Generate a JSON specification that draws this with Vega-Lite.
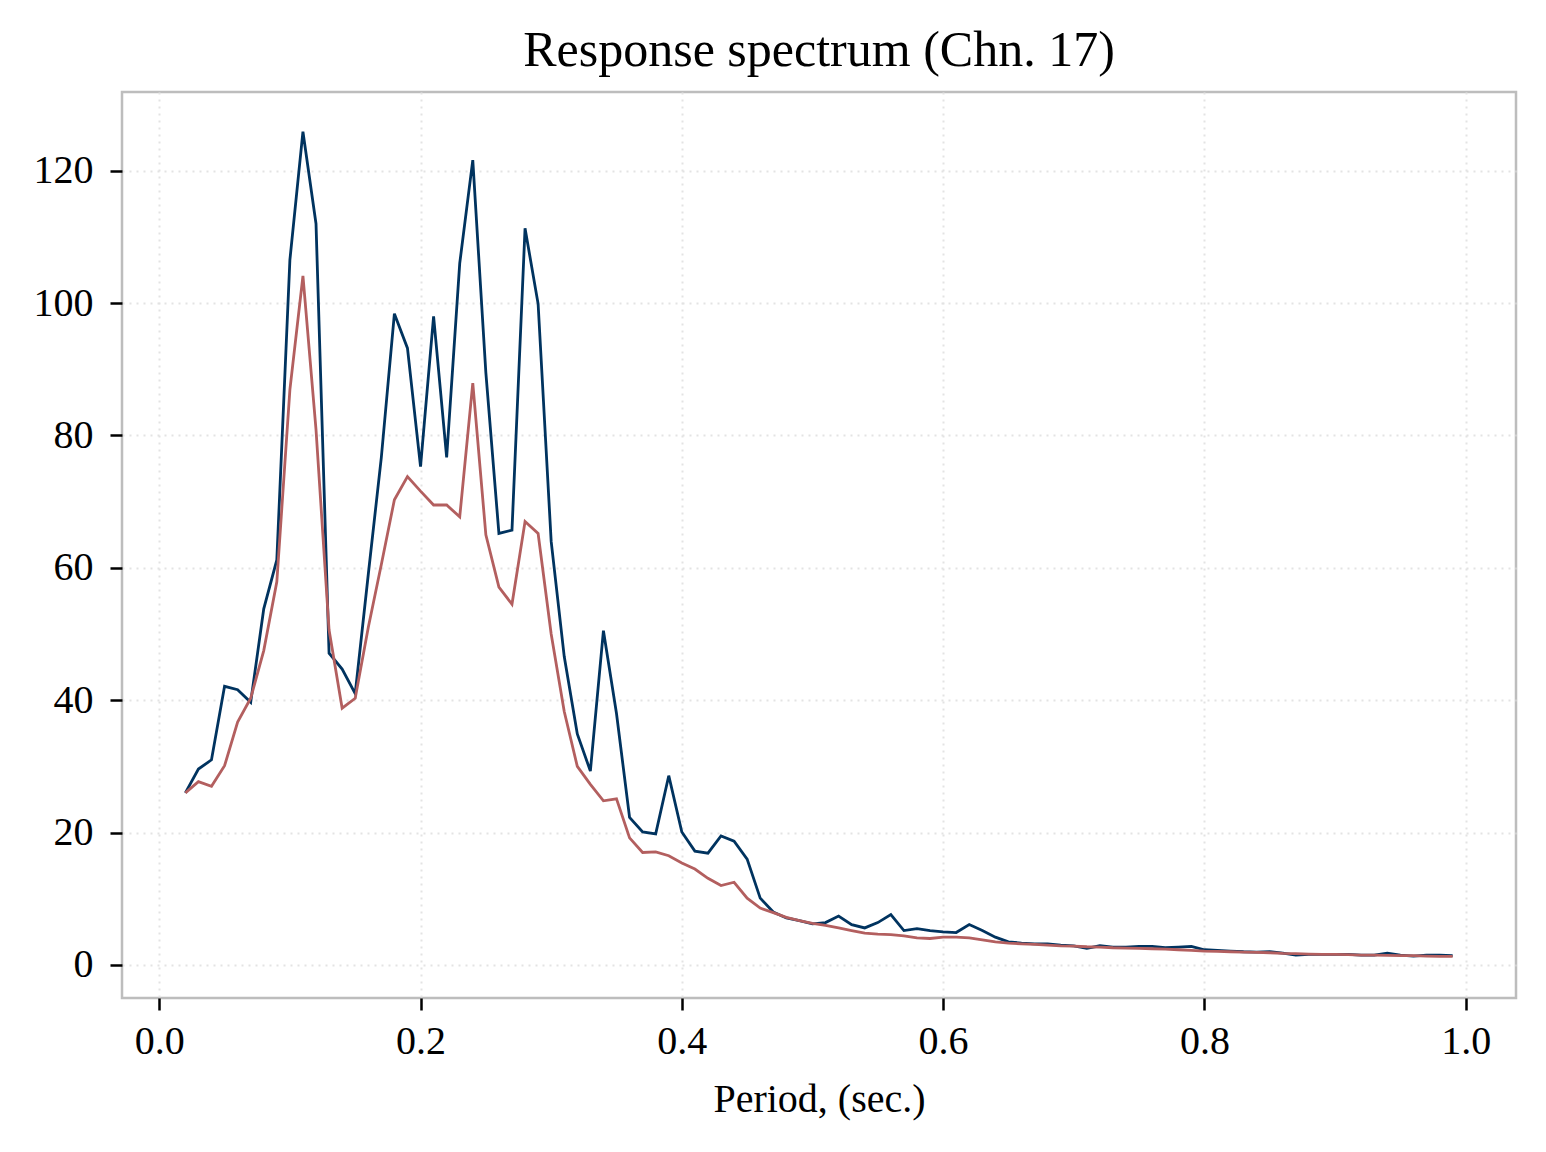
{
  "$schema": "https://vega.github.io/schema/vega-lite/v6.json",
  "autosize": {"type": "none"},
  "padding": {"left": 122, "top": 92, "right": 30, "bottom": 154},
  "width": 1394,
  "height": 906,
  "background": "white",
  "title": {
    "text": "Response spectrum (Chn. 17)",
    "font": "Liberation Serif",
    "fontSize": 50,
    "fontWeight": "normal",
    "color": "black",
    "anchor": "middle",
    "offset": 16
  },
  "config": {
    "view": {"stroke": "#bdbdbd", "strokeWidth": 2.5},
    "axis": {
      "domain": false,
      "grid": true,
      "gridColor": "#e3e3e3",
      "gridDash": [2, 5],
      "gridWidth": 2,
      "ticks": true,
      "tickColor": "black",
      "tickWidth": 2.5,
      "tickSize": 12,
      "labelFont": "Liberation Serif",
      "labelFontSize": 40,
      "labelColor": "black",
      "titleFont": "Liberation Serif",
      "titleFontSize": 40,
      "titleFontWeight": "normal",
      "titleColor": "black"
    }
  },
  "data": {
    "values": [
      {"T": 0.02, "a": 26.0, "b": 26.0},
      {"T": 0.03, "a": 29.6, "b": 27.7},
      {"T": 0.04, "a": 31.0, "b": 27.0},
      {"T": 0.05, "a": 42.1, "b": 30.1},
      {"T": 0.06, "a": 41.6, "b": 36.7},
      {"T": 0.07, "a": 39.7, "b": 40.3},
      {"T": 0.08, "a": 53.8, "b": 47.5},
      {"T": 0.09, "a": 61.2, "b": 57.9},
      {"T": 0.10, "a": 106.5, "b": 86.9},
      {"T": 0.11, "a": 125.9, "b": 104.1},
      {"T": 0.12, "a": 112.0, "b": 80.9},
      {"T": 0.13, "a": 47.1, "b": 50.6},
      {"T": 0.14, "a": 44.7, "b": 38.8},
      {"T": 0.15, "a": 41.0, "b": 40.3},
      {"T": 0.16, "a": 59.0, "b": 51.0},
      {"T": 0.17, "a": 76.7, "b": 60.5},
      {"T": 0.18, "a": 98.4, "b": 70.3},
      {"T": 0.19, "a": 93.2, "b": 73.8},
      {"T": 0.20, "a": 75.3, "b": 71.6},
      {"T": 0.21, "a": 98.0, "b": 69.5},
      {"T": 0.22, "a": 76.7, "b": 69.5},
      {"T": 0.23, "a": 106.0, "b": 67.7},
      {"T": 0.24, "a": 121.6, "b": 87.9},
      {"T": 0.25, "a": 89.5, "b": 65.0},
      {"T": 0.26, "a": 65.2, "b": 57.1},
      {"T": 0.27, "a": 65.7, "b": 54.5},
      {"T": 0.28, "a": 111.3, "b": 67.0},
      {"T": 0.29, "a": 99.9, "b": 65.2},
      {"T": 0.30, "a": 64.0, "b": 50.0},
      {"T": 0.31, "a": 46.6, "b": 38.3},
      {"T": 0.32, "a": 34.9, "b": 30.0},
      {"T": 0.33, "a": 29.3, "b": 27.3},
      {"T": 0.34, "a": 50.5, "b": 24.8},
      {"T": 0.35, "a": 38.0, "b": 25.1},
      {"T": 0.36, "a": 22.3, "b": 19.2},
      {"T": 0.37, "a": 20.1, "b": 17.0},
      {"T": 0.38, "a": 19.8, "b": 17.1},
      {"T": 0.39, "a": 28.6, "b": 16.5},
      {"T": 0.40, "a": 20.1, "b": 15.4},
      {"T": 0.41, "a": 17.2, "b": 14.5},
      {"T": 0.42, "a": 16.9, "b": 13.1},
      {"T": 0.43, "a": 19.5, "b": 12.0},
      {"T": 0.44, "a": 18.7, "b": 12.5},
      {"T": 0.45, "a": 16.0, "b": 10.1},
      {"T": 0.46, "a": 10.1, "b": 8.6},
      {"T": 0.47, "a": 8.0, "b": 7.9},
      {"T": 0.48, "a": 7.1, "b": 7.2},
      {"T": 0.49, "a": 6.7, "b": 6.7},
      {"T": 0.50, "a": 6.2, "b": 6.3},
      {"T": 0.51, "a": 6.4, "b": 6.0},
      {"T": 0.52, "a": 7.4, "b": 5.6},
      {"T": 0.53, "a": 6.1, "b": 5.2},
      {"T": 0.54, "a": 5.6, "b": 4.8},
      {"T": 0.55, "a": 6.4, "b": 4.65},
      {"T": 0.56, "a": 7.6, "b": 4.6},
      {"T": 0.57, "a": 5.2, "b": 4.4},
      {"T": 0.58, "a": 5.5, "b": 4.1},
      {"T": 0.59, "a": 5.2, "b": 4.0},
      {"T": 0.60, "a": 5.0, "b": 4.2},
      {"T": 0.61, "a": 4.9, "b": 4.2},
      {"T": 0.62, "a": 6.1, "b": 4.1},
      {"T": 0.63, "a": 5.2, "b": 3.8},
      {"T": 0.64, "a": 4.2, "b": 3.5},
      {"T": 0.65, "a": 3.5, "b": 3.3},
      {"T": 0.66, "a": 3.3, "b": 3.2},
      {"T": 0.67, "a": 3.2, "b": 3.1},
      {"T": 0.68, "a": 3.2, "b": 3.0},
      {"T": 0.69, "a": 3.0, "b": 2.9},
      {"T": 0.70, "a": 2.9, "b": 2.85},
      {"T": 0.71, "a": 2.5, "b": 2.75},
      {"T": 0.72, "a": 2.9, "b": 2.7},
      {"T": 0.73, "a": 2.7, "b": 2.6},
      {"T": 0.74, "a": 2.7, "b": 2.55},
      {"T": 0.75, "a": 2.8, "b": 2.5},
      {"T": 0.76, "a": 2.8, "b": 2.45},
      {"T": 0.77, "a": 2.6, "b": 2.4},
      {"T": 0.78, "a": 2.7, "b": 2.3},
      {"T": 0.79, "a": 2.8, "b": 2.2},
      {"T": 0.80, "a": 2.3, "b": 2.1},
      {"T": 0.81, "a": 2.2, "b": 2.05},
      {"T": 0.82, "a": 2.1, "b": 2.0},
      {"T": 0.83, "a": 2.0, "b": 1.95},
      {"T": 0.84, "a": 1.95, "b": 1.9},
      {"T": 0.85, "a": 2.0, "b": 1.85},
      {"T": 0.86, "a": 1.8, "b": 1.75},
      {"T": 0.87, "a": 1.5, "b": 1.7},
      {"T": 0.88, "a": 1.6, "b": 1.65},
      {"T": 0.89, "a": 1.6, "b": 1.6},
      {"T": 0.90, "a": 1.6, "b": 1.6},
      {"T": 0.91, "a": 1.6, "b": 1.55},
      {"T": 0.92, "a": 1.5, "b": 1.5},
      {"T": 0.93, "a": 1.5, "b": 1.5},
      {"T": 0.94, "a": 1.8, "b": 1.45},
      {"T": 0.95, "a": 1.5, "b": 1.4},
      {"T": 0.96, "a": 1.35, "b": 1.4},
      {"T": 0.97, "a": 1.5, "b": 1.35},
      {"T": 0.98, "a": 1.5, "b": 1.3},
      {"T": 0.99, "a": 1.4, "b": 1.3}
    ]
  },
  "encoding": {
    "x": {
      "field": "T",
      "type": "quantitative",
      "scale": {"domain": [-0.0285, 1.0385], "nice": false, "zero": false},
      "axis": {
        "title": "Period, (sec.)",
        "values": [0, 0.2, 0.4, 0.6, 0.8, 1.0],
        "format": ".1f",
        "labelPadding": 11,
        "titlePadding": 18
      }
    }
  },
  "layer": [
    {
      "mark": {"type": "line", "color": "#00335f", "strokeWidth": 2.8, "clip": true},
      "encoding": {
        "y": {
          "field": "a",
          "type": "quantitative",
          "scale": {"domain": [-4.99, 131.9], "nice": false, "zero": false},
          "axis": {
            "title": null,
            "values": [0, 20, 40, 60, 80, 100, 120],
            "labelPadding": 17
          }
        }
      }
    },
    {
      "mark": {"type": "line", "color": "#b35f5f", "strokeWidth": 2.8, "clip": true},
      "encoding": {
        "y": {"field": "b", "type": "quantitative"}
      }
    }
  ]
}
